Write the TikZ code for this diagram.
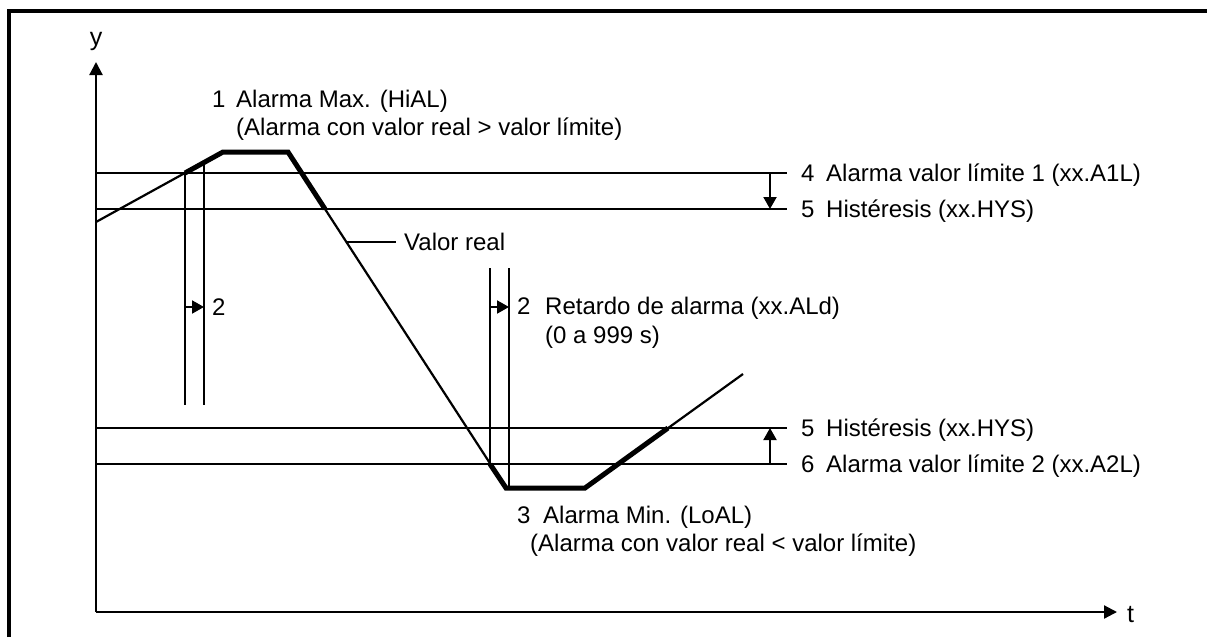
\documentclass[tikz,border=0pt]{standalone}
\usepackage{fontspec}
\setmainfont{Liberation Sans}
\usetikzlibrary{arrows.meta}
\begin{document}
\begin{tikzpicture}[x=1pt,y=-1pt,
  hline/.style={line width=2pt},
  curveline/.style={line width=2.2pt, line join=miter},
  thickseg/.style={line width=5pt, line join=miter},
  lbl/.style={anchor=base west, inner sep=0pt, font=\fontsize{24}{28}\selectfont},
  axlbl/.style={anchor=base, inner sep=0pt, font=\fontsize{25}{29}\selectfont},
  axtip/.style={-{Triangle[length=13pt,width=13pt]}},
  smalltip/.style={-{Triangle[length=12pt,width=13pt]}}]
\useasboundingbox (0,0) rectangle (1207,637);
% frame
\draw[line width=3.5pt] (9,637) -- (9,11) -- (1207,11);

% axes
\coordinate (O) at (96,612);
\coordinate (ytop) at (96,62);
\coordinate (xend) at (1117,612);
\draw[line width=2.2pt, axtip] (O) -- (ytop);
\draw[line width=2.2pt, axtip] (O) -- (xend);
\node[axlbl] (ylab) at (96,45) {y};
\node[axlbl, anchor=base west] (tlab) at (1127,622) {t};

% horizontal limit lines
\coordinate (L1a) at (96,173);  \coordinate (L1b) at (787,173);
\coordinate (H1a) at (96,209);  \coordinate (H1b) at (787,209);
\coordinate (H2a) at (96,428);  \coordinate (H2b) at (787,428);
\coordinate (L2a) at (96,464);  \coordinate (L2b) at (787,464);
\draw[hline] (L1a) -- (L1b);
\draw[hline] (H1a) -- (H1b);
\draw[hline] (H2a) -- (H2b);
\draw[hline] (L2a) -- (L2b);

% hysteresis arrows
\coordinate (a1s) at (770,173); \coordinate (a1e) at (770,209);
\coordinate (a2s) at (770,464); \coordinate (a2e) at (770,428);
\draw[hline, smalltip] (a1s) -- (a1e);
\draw[hline, smalltip] (a2s) -- (a2e);

% curve points
\coordinate (P0) at (96,222);
\coordinate (P1) at (185,173);
\coordinate (P2) at (223,152);
\coordinate (P3) at (288,152);
\coordinate (P4) at (325,209);
\coordinate (P5) at (490,464);
\coordinate (P6) at (506,488);
\coordinate (P7) at (585,488);
\coordinate (P8) at (668,428);
\coordinate (P9) at (743,374);
\draw[curveline] (P0) -- (P2) -- (P3) -- (P6) -- (P7) -- (P9);
\draw[thickseg] (P1) -- (P2) -- (P3) -- (P4);
\draw[thickseg] (P5) -- (P6) -- (P7) -- (P8);

% delay lines (left)
\coordinate (V1t) at (185,173); \coordinate (V1b) at (185,405);
\coordinate (V2t) at (204,162); \coordinate (V2b) at (204,405);
\draw[hline] (V1t) -- (V1b);
\draw[hline] (V2t) -- (V2b);
\coordinate (d1s) at (185,307); \coordinate (d1e) at (204,307);
\draw[hline, smalltip] (d1s) -- (d1e);

% delay lines (right)
\coordinate (V3t) at (490,268); \coordinate (V3b) at (490,464);
\coordinate (V4t) at (509,268); \coordinate (V4b) at (509,488);
\draw[hline] (V3t) -- (V3b);
\draw[hline] (V4t) -- (V4b);
\coordinate (d2s) at (490,307); \coordinate (d2e) at (509,307);
\draw[hline, smalltip] (d2s) -- (d2e);

% valor real leader
\coordinate (vr1) at (346,242);
\node[lbl] (vrt) at (404,250) {Valor real};
\draw[hline] (vr1) -- (396,242);

% labels
\node[lbl] (n1) at (212,107) {1};
\node[lbl] (t1) at (236,107) {Alarma Max. (HiAL)};
\node[lbl] (t1b) at (236,135) {(Alarma con valor real > valor límite)};

\node[lbl] (n2a) at (212,315) {2};

\node[lbl] (n2b) at (517,314) {2};
\node[lbl] (t2b) at (545,314) {Retardo de alarma (xx.ALd)};
\node[lbl] (t2c) at (545,343) {(0 a 999 s)};

\node[lbl] (n4) at (801,181) {4};
\node[lbl] (t4) at (826,181) {Alarma valor límite 1 (xx.A1L)};
\node[lbl] (n5a) at (801,217) {5};
\node[lbl] (t5a) at (826,217) {Histéresis (xx.HYS)};
\node[lbl] (n5b) at (801,436) {5};
\node[lbl] (t5b) at (826,436) {Histéresis (xx.HYS)};
\node[lbl] (n6) at (801,472) {6};
\node[lbl] (t6) at (826,472) {Alarma valor límite 2 (xx.A2L)};

\node[lbl] (n3) at (517,523) {3};
\node[lbl] (t3) at (543,523) {Alarma Min. (LoAL)};
\node[lbl] (t3b) at (530,551) {(Alarma con valor real < valor límite)};
\end{tikzpicture}
\end{document}
